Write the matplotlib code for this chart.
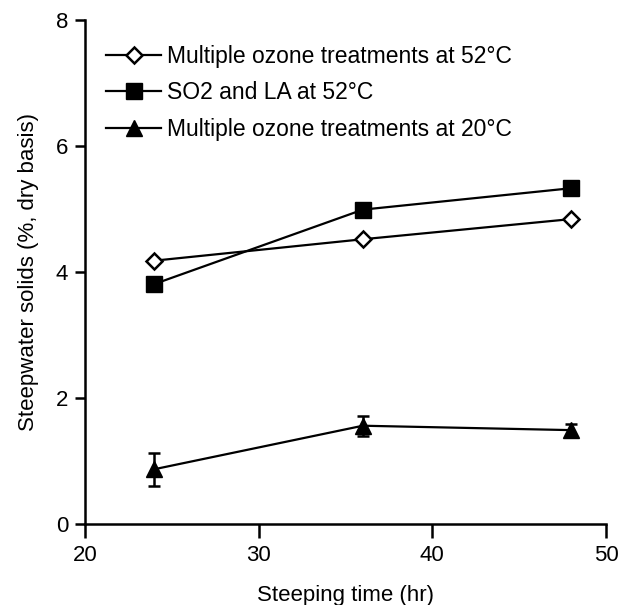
import matplotlib
matplotlib.use("Agg")
import matplotlib.pyplot as plt
from matplotlib.lines import Line2D

plt.rcParams['font.family'] = ['Liberation Sans', 'DejaVu Sans']

hours = [24, 36, 48]
ozone_52 = [4.18, 4.52, 4.84]
so2_la_52 = [3.81, 4.99, 5.33]
ozone_20 = [0.87, 1.56, 1.49]
ozone_20_err = [0.26, 0.16, 0.09]

labels = ["Multiple ozone treatments at 52°C",
          "SO2 and LA at 52°C",
          "Multiple ozone treatments at 20°C"]

W, H = 621, 605
fig = plt.figure(figsize=(W / 100, H / 100), dpi=100)
ax = fig.add_axes([85 / W, 1 - 524 / H, (606 - 85) / W, (524 - 20) / H])

lw = 1.6
ax.plot(hours, ozone_52, color='black', lw=lw, marker='D', ms=8,
        mfc='white', mec='black', mew=1.8, zorder=3)
ax.plot(hours, so2_la_52, color='black', lw=lw, marker='s', ms=11,
        mfc='black', mec='black', zorder=3)
ax.errorbar(hours, ozone_20, yerr=ozone_20_err, color='black', lw=lw,
            marker='^', ms=11, mfc='black', mec='black', elinewidth=1.8,
            capsize=4, capthick=1.8, zorder=3)

ax.set_xlim(20, 50)
ax.set_ylim(0, 8)
ax.set_xticks([20, 30, 40, 50])
ax.set_yticks([0, 2, 4, 6, 8])
for s in ['top', 'right']:
    ax.spines[s].set_visible(False)
for s in ['left', 'bottom']:
    ax.spines[s].set_linewidth(1.8)
ax.tick_params(axis='y', direction='out', length=7, width=1.8,
               labelsize=16, pad=5)
ax.tick_params(axis='x', direction='out', length=10, width=1.8,
               labelsize=16, pad=5)

ax.set_xlabel("Steeping time (hr)", fontsize=16, labelpad=14)
ax.set_ylabel("Steepwater solids (%, dry basis)", fontsize=16, labelpad=12)

handles = [
    Line2D([], [], color='black', lw=lw, marker='D', ms=8, mfc='white',
           mec='black', mew=1.8),
    Line2D([], [], color='black', lw=lw, marker='s', ms=11, mfc='black',
           mec='black'),
    Line2D([], [], color='black', lw=lw, marker='^', ms=11, mfc='black',
           mec='black'),
]
fig.legend(handles, labels, loc='upper left',
           bbox_to_anchor=(106 / W, 1 - 45 / H), frameon=False,
           fontsize=16.5, handlelength=2.4, handletextpad=0.25,
           labelspacing=0.58, borderpad=0, borderaxespad=0)

fig.savefig("out.png", dpi=100)
